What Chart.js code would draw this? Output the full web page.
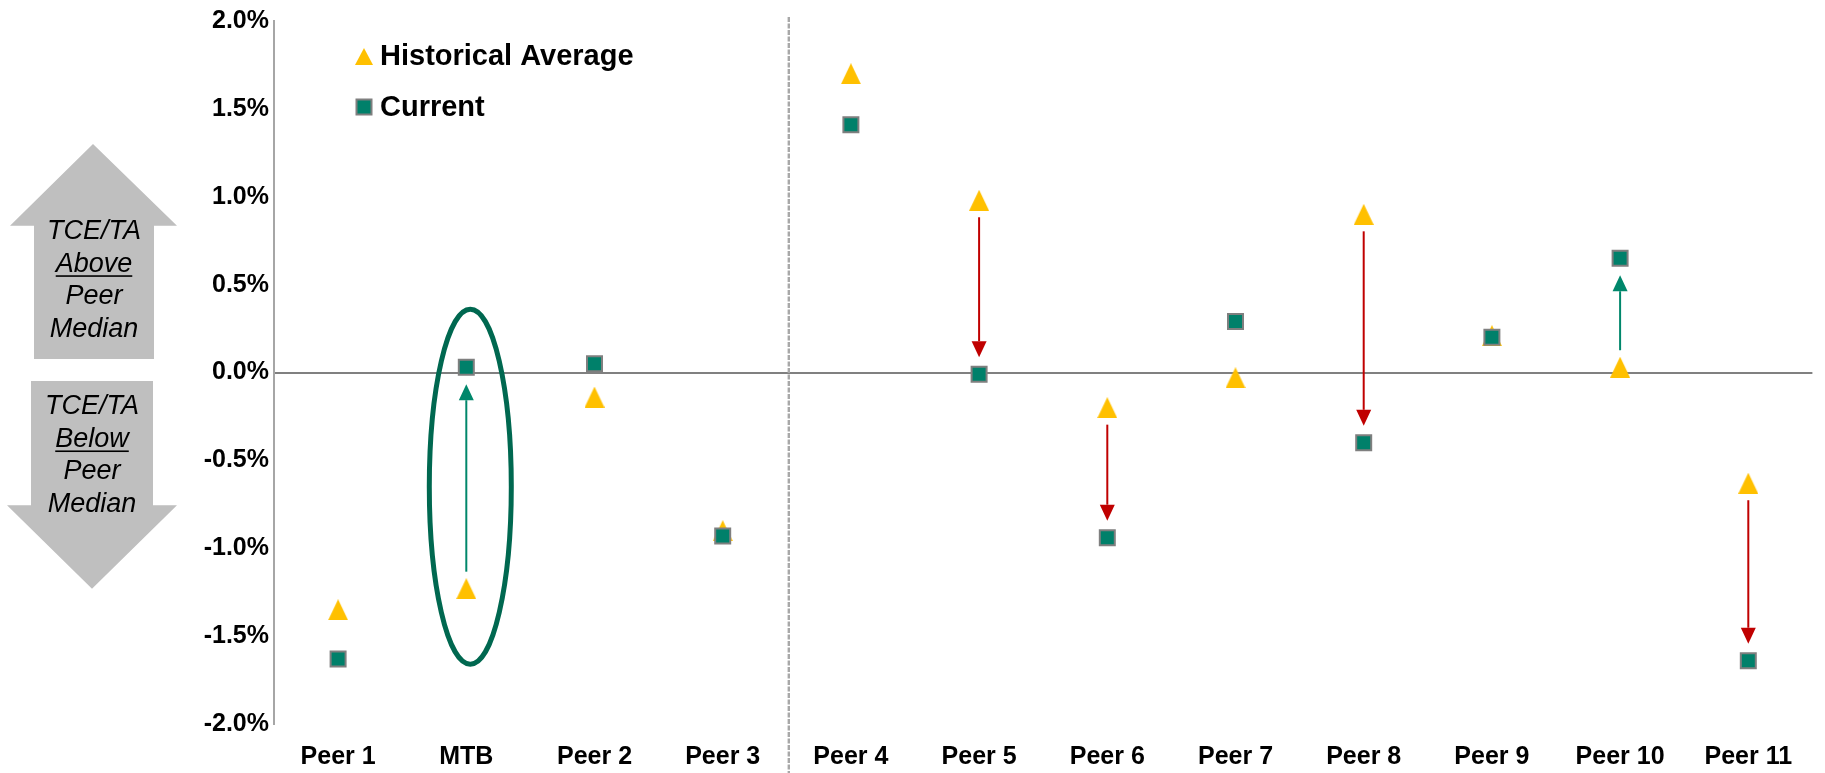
<!DOCTYPE html>
<html>
<head>
<meta charset="utf-8">
<script src="https://cdn.jsdelivr.net/npm/chart.js@4.4.1/dist/chart.umd.min.js"></script>
<style>
  html, body { margin: 0; padding: 0; background: #fff; }
  #wrap { width: 1825px; height: 773px; }
</style>
</head>
<body>
<div id="wrap"><canvas id="peerChart" width="1825" height="773"></canvas></div>
<script>
// TCE/TA vs peer median, in percent
const categories = ['Peer 1', 'MTB', 'Peer 2', 'Peer 3', 'Peer 4', 'Peer 5', 'Peer 6', 'Peer 7', 'Peer 8', 'Peer 9', 'Peer 10', 'Peer 11'];
const historicalAvg = [-1.35, -1.23, -0.14, -0.90, 1.70, 0.98, -0.20, -0.03, 0.90, 0.21, 0.03, -0.63];
const currentVals = [-1.63, 0.03, 0.05, -0.93, 1.41, -0.01, -0.94, 0.29, -0.40, 0.20, 0.65, -1.64];
const yTickValues = [-2, -1.5, -1, -0.5, 0, 0.5, 1, 1.5, 2];
const arrowCats = ['MTB', 'Peer 5', 'Peer 6', 'Peer 8', 'Peer 10', 'Peer 11'];
const highlightCat = 'MTB';
const splitAfter = 'Peer 3';
const upArrowText = ['TCE/TA', 'Above', 'Peer', 'Median'];
const downArrowText = ['TCE/TA', 'Below', 'Peer', 'Median'];

const FONT = '"Liberation Sans", Arial, sans-serif';
const GOLD = '#FFC000';
const TEAL = '#00806A';

function makeTriangle(w, h, color) {
  const c = document.createElement('canvas');
  c.width = w; c.height = h;
  const g = c.getContext('2d');
  g.fillStyle = color;
  g.beginPath();
  g.moveTo(w / 2, 0);
  g.lineTo(w, h);
  g.lineTo(0, h);
  g.closePath();
  g.fill();
  return c;
}
const triMarker = makeTriangle(20, 21, GOLD);
const triLegend = makeTriangle(18, 17, GOLD);

// extras: legend, gray side arrows, change arrows, ellipse, divider
const extras = {
  id: 'extras',
  beforeDatasetsDraw(chart) {
    const { ctx, chartArea, scales: { x } } = chart;
    const i = categories.indexOf(splitAfter);
    const xs = (x.getPixelForValue(i) + x.getPixelForValue(i + 1)) / 2 + 2;
    ctx.save();
    ctx.strokeStyle = '#A8A8A8';
    ctx.lineWidth = 2.4;
    ctx.setLineDash([5, 1.5]);
    ctx.beginPath();
    ctx.moveTo(xs, chartArea.top - 4);
    ctx.lineTo(xs, chart.height);
    ctx.stroke();
    ctx.restore();
  },
  afterDatasetsDraw(chart) {
    const { ctx, scales: { x, y } } = chart;
    ctx.save();

    // change arrows
    arrowCats.forEach(cat => {
      const i = categories.indexOf(cat);
      const px = x.getPixelForValue(i);
      const yH = y.getPixelForValue(historicalAvg[i]);
      const yC = y.getPixelForValue(currentVals[i]);
      const dir = yC > yH ? 1 : -1;
      const color = dir > 0 ? '#C00000' : '#00876B';
      const start = yH + dir * 17;
      const tip = yC - dir * 17;
      const head = 16;
      ctx.strokeStyle = color;
      ctx.fillStyle = color;
      ctx.lineWidth = 2;
      ctx.beginPath();
      ctx.moveTo(px, start);
      ctx.lineTo(px, tip - dir * head);
      ctx.stroke();
      ctx.beginPath();
      ctx.moveTo(px, tip);
      ctx.lineTo(px - 7.5, tip - dir * head);
      ctx.lineTo(px + 7.5, tip - dir * head);
      ctx.closePath();
      ctx.fill();
    });

    // MTB ellipse
    const mi = categories.indexOf(highlightCat);
    const cx = x.getPixelForValue(mi) + 4;
    const yTop = y.getPixelForValue(0.36);
    const yBot = y.getPixelForValue(-1.66);
    ctx.strokeStyle = '#006850';
    ctx.lineWidth = 5;
    ctx.beginPath();
    ctx.ellipse(cx, (yTop + yBot) / 2, 41, (yBot - yTop) / 2, 0, 0, Math.PI * 2);
    ctx.stroke();
    ctx.restore();
  },
  afterDraw(chart) {
    const { ctx, chartArea, scales: { y } } = chart;
    ctx.save();

    // legend
    const lx = chartArea.left + 90;
    const rows = [chartArea.top + 35, chartArea.top + 86];
    ctx.font = 'bold 29px ' + FONT;
    ctx.fillStyle = '#000';
    ctx.textBaseline = 'middle';
    chart.data.datasets.forEach((ds, k) => {
      const ly = rows[k];
      if (k === 0) {
        ctx.drawImage(triLegend, lx - 9, ly - 8);
      } else {
        ctx.fillStyle = TEAL;
        ctx.fillRect(lx - 7.5, ly - 7.5, 15, 15);
        ctx.strokeStyle = '#7F7F7F';
        ctx.lineWidth = 2;
        ctx.strokeRect(lx - 7.5, ly - 7.5, 15, 15);
        ctx.fillStyle = '#000';
      }
      ctx.fillText(ds.label, lx + 16, ly + 1);
    });

    // gray side arrows
    ctx.fillStyle = '#BFBFBF';
    const uTip = y.getPixelForValue(1.30), uBase = y.getPixelForValue(0.835), uBot = y.getPixelForValue(0.077);
    ctx.beginPath();
    ctx.moveTo(93, uTip);
    ctx.lineTo(177, uBase);
    ctx.lineTo(154, uBase);
    ctx.lineTo(154, uBot);
    ctx.lineTo(34, uBot);
    ctx.lineTo(34, uBase);
    ctx.lineTo(10, uBase);
    ctx.closePath();
    ctx.fill();
    const dTop = y.getPixelForValue(-0.048), dBase = y.getPixelForValue(-0.756), dTip = y.getPixelForValue(-1.23);
    ctx.beginPath();
    ctx.moveTo(31, dTop);
    ctx.lineTo(153, dTop);
    ctx.lineTo(153, dBase);
    ctx.lineTo(177, dBase);
    ctx.lineTo(92, dTip);
    ctx.lineTo(7, dBase);
    ctx.lineTo(31, dBase);
    ctx.closePath();
    ctx.fill();

    ctx.font = 'italic 27px ' + FONT;
    ctx.fillStyle = '#000';
    ctx.textAlign = 'center';
    ctx.textBaseline = 'middle';
    const drawBlock = (lines, cx, y0) => {
      lines.forEach((t, k) => {
        const ty = y0 + k * 32.5;
        ctx.fillText(t, cx, ty);
        if (k === 1) {
          const w = ctx.measureText(t).width;
          ctx.fillRect(cx - w / 2, ty + 11, w, 1.6);
        }
      });
    };
    drawBlock(upArrowText, 94, uBase + 6);
    drawBlock(downArrowText, 92, dTop + 26);
    ctx.restore();
  }
};

const ctx = document.getElementById('peerChart').getContext('2d');
new Chart(ctx, {
  type: 'line',
  data: {
    labels: categories,
    datasets: [{
      label: 'Historical Average',
      data: historicalAvg,
      showLine: false,
      pointStyle: triMarker,
      pointRadius: 10,
      order: 1
    }, {
      label: 'Current',
      data: currentVals,
      showLine: false,
      pointStyle: 'rect',
      pointRadius: 10.6,
      pointBackgroundColor: TEAL,
      pointBorderColor: '#7F7F7F',
      pointBorderWidth: 2,
      order: 0
    }]
  },
  options: {
    responsive: false,
    animation: false,
    events: [],
    layout: { padding: { left: 0, top: 21, right: 6, bottom: 0 } },
    plugins: { legend: { display: false }, tooltip: { enabled: false } },
    scales: {
      x: {
        offset: true,
        grid: { display: false, drawTicks: false },
        border: { display: false },
        ticks: {
          color: '#000',
          font: { family: FONT, size: 25, weight: 'bold' },
          padding: 18,
          maxRotation: 0,
          autoSkip: false
        },
        afterFit: s => { s.height = 49; }
      },
      y: {
        min: -2,
        max: 2,
        afterBuildTicks: s => { s.ticks = yTickValues.map(v => ({ value: v })); },
        afterFit: s => { s.width = 274; },
        ticks: {
          color: '#000',
          font: { family: FONT, size: 25, weight: 'bold' },
          padding: 5,
          callback: v => v.toFixed(1) + '%'
        },
        grid: {
          drawTicks: false,
          lineWidth: 2,
          color: c => (c.tick && c.tick.value === 0) ? '#808080' : 'rgba(0,0,0,0)'
        },
        border: { color: '#A6A6A6', width: 2 }
      }
    }
  },
  plugins: [extras]
});
</script>
</body>
</html>
